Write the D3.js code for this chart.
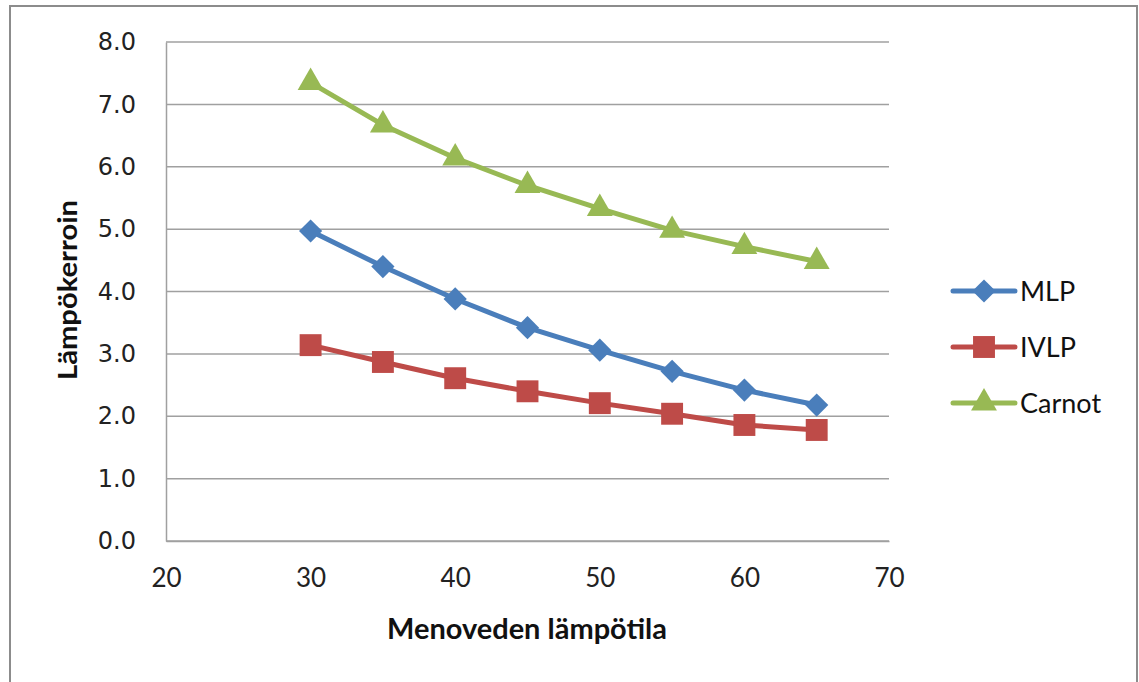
<!DOCTYPE html>
<html>
<head>
<meta charset="utf-8">
<script src="https://cdn.jsdelivr.net/npm/d3@7"></script>
<style>
  html, body { margin: 0; padding: 0; background: #fff; }
  svg { display: block; }
</style>
</head>
<body>
<svg id="chart" width="1139" height="682"></svg>
<script>
// Supply water temperature (°C)
const temps = [30, 35, 40, 45, 50, 55, 60, 65];
// Coefficient of performance per heat pump type
const mlp    = [4.97, 4.40, 3.88, 3.42, 3.06, 2.72, 2.42, 2.18];
const ivlp   = [3.14, 2.87, 2.61, 2.40, 2.21, 2.04, 1.86, 1.78];
const carnot = [7.35, 6.67, 6.14, 5.70, 5.33, 4.98, 4.72, 4.48];
const seriesNames = ["MLP", "IVLP", "Carnot"];
const xTicks = [20, 30, 40, 50, 60, 70];
const yTicks = [0, 1, 2, 3, 4, 5, 6, 7, 8];

const colors = { MLP: "#4a7ebb", IVLP: "#be4b48", Carnot: "#98b954" };
const symbols = { MLP: d3.symbolSquare, IVLP: d3.symbolSquare, Carnot: d3.symbolTriangle };
const symRotate = { MLP: 45, IVLP: 0, Carnot: 0 };
const symSize = { MLP: 270, IVLP: 480, Carnot: 290 };
const values = { MLP: mlp, IVLP: ivlp, Carnot: carnot };

const font = "Lato, 'Open Sans', sans-serif";
const svg = d3.select("#chart");

// outer chart frame
svg.append("rect")
  .attr("x", 10).attr("y", 6).attr("width", 1127).attr("height", 690)
  .attr("fill", "none").attr("stroke", "#8c8c8c").attr("stroke-width", 2);

const plot = { left: 166, right: 889, top: 42, bottom: 541 };
const x = d3.scaleLinear().domain([20, 70]).range([plot.left, plot.right]);
const y = d3.scaleLinear().domain([0, 8]).range([plot.bottom, plot.top]);

// horizontal gridlines
svg.append("g")
  .selectAll("line")
  .data(yTicks)
  .join("line")
  .attr("x1", plot.left).attr("x2", plot.right)
  .attr("y1", d => y(d)).attr("y2", d => y(d))
  .attr("stroke", "#a0a0a0").attr("stroke-width", 1.5);

// axes without tick marks
const yAxis = d3.axisLeft(y).tickValues(yTicks).tickFormat(d3.format(".1f")).tickSize(0).tickPadding(30);
const gy = svg.append("g").attr("transform", `translate(${plot.left},0)`).call(yAxis);
gy.select(".domain").attr("stroke", "#a0a0a0").attr("stroke-width", 1.5);
gy.selectAll("text").attr("font-family", "'DejaVu Sans', Verdana, sans-serif").attr("font-size", 24).attr("fill", "#222");

const xAxis = d3.axisBottom(x).tickValues(xTicks).tickFormat(d3.format("d")).tickSize(0).tickPadding(28);
const gx = svg.append("g").attr("transform", `translate(0,${plot.bottom})`).call(xAxis);
gx.select(".domain").attr("stroke", "#a0a0a0").attr("stroke-width", 1.5);
gx.selectAll("text").attr("font-family", font).attr("font-size", 26).attr("fill", "#222");

// axis titles
svg.append("text")
  .attr("x", 527).attr("y", 639)
  .attr("text-anchor", "middle")
  .attr("font-family", font).attr("font-weight", "bold").attr("font-size", 28)
  .attr("textLength", 280).attr("lengthAdjust", "spacingAndGlyphs")
  .attr("fill", "#111")
  .text("Menoveden lämpötila");

svg.append("text")
  .attr("transform", "translate(77,290) rotate(-90)")
  .attr("text-anchor", "middle")
  .attr("font-family", font).attr("font-weight", "bold").attr("font-size", 27)
  .attr("textLength", 180).attr("lengthAdjust", "spacingAndGlyphs")
  .attr("fill", "#111")
  .text("Lämpökerroin");

// series lines and markers
const line = d3.line().x((d, i) => x(temps[i])).y(d => y(d));

seriesNames.forEach(name => {
  const g = svg.append("g");
  g.append("path")
    .datum(values[name])
    .attr("d", line)
    .attr("fill", "none")
    .attr("stroke", colors[name])
    .attr("stroke-width", 5)
    .attr("stroke-linejoin", "round");
  g.selectAll("path.marker")
    .data(values[name])
    .join("path")
    .attr("class", "marker")
    .attr("transform", (d, i) => `translate(${x(temps[i])},${y(d)}) rotate(${symRotate[name]})`)
    .attr("d", d3.symbol().type(symbols[name]).size(symSize[name]))
    .attr("fill", colors[name]);
});

// legend
const legendY = { MLP: 291, IVLP: 347, Carnot: 403 };
seriesNames.forEach(name => {
  const g = svg.append("g").attr("transform", `translate(0,${legendY[name]})`);
  g.append("line")
    .attr("x1", 953).attr("x2", 1015).attr("y1", 0).attr("y2", 0)
    .attr("stroke", colors[name]).attr("stroke-width", 5).attr("stroke-linecap", "round");
  g.append("path")
    .attr("transform", `translate(984,0) rotate(${symRotate[name]})`)
    .attr("d", d3.symbol().type(symbols[name]).size(symSize[name]))
    .attr("fill", colors[name]);
  g.append("text")
    .attr("x", 1020).attr("y", 0).attr("dy", "0.36em")
    .attr("font-family", font).attr("font-size", 27)
    .attr("fill", "#111")
    .text(name);
});
</script>
</body>
</html>
